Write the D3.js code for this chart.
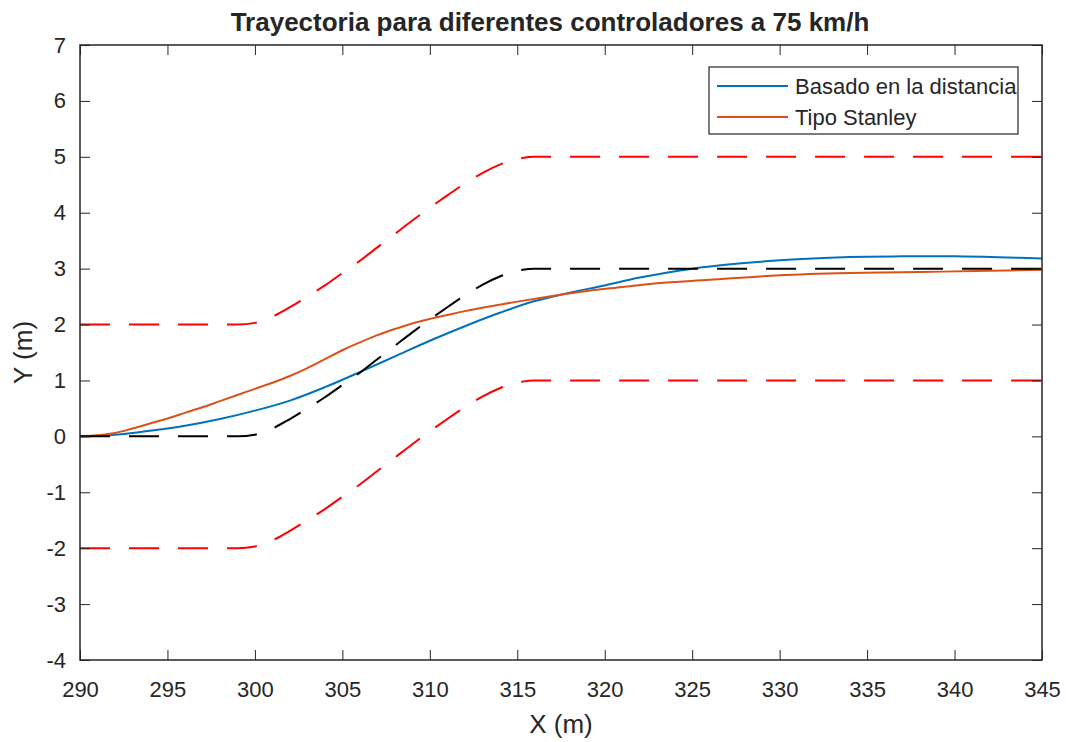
<!DOCTYPE html>
<html>
<head>
<meta charset="utf-8">
<script src="https://cdn.jsdelivr.net/npm/d3@7"></script>
<style>
  body { margin: 0; background: #fff; }
  text { font-family: "Liberation Sans", Arial, sans-serif; fill: #262626; }
</style>
</head>
<body>
<div id="chart"></div>
<script>
// reference path (centre line) and lane borders
const xRef = [290, 299, 300, 301, 302, 303, 304, 305, 306, 307, 308, 309, 310, 311, 312, 313, 314, 315, 316, 345];
const yRef = [0, 0, 0.03, 0.14, 0.31, 0.5, 0.7, 0.92, 1.14, 1.38, 1.62, 1.86, 2.09, 2.31, 2.52, 2.71, 2.86, 2.96, 3.0, 3.0];
const yUpper = [2, 2, 2.03, 2.14, 2.31, 2.5, 2.7, 2.92, 3.14, 3.38, 3.62, 3.86, 4.09, 4.31, 4.52, 4.71, 4.86, 4.96, 5.0, 5.0];
const yLower = [-2, -2, -1.97, -1.86, -1.69, -1.5, -1.3, -1.08, -0.86, -0.62, -0.38, -0.14, 0.09, 0.31, 0.52, 0.71, 0.86, 0.96, 1.0, 1.0];

// controller: distance based
const xDist = [290, 291, 292, 293, 294, 295, 296, 298, 300, 302, 304, 306, 308, 310, 312, 314, 316, 318, 320, 322, 325, 328, 331, 334, 337, 340, 343, 345];
const yDist = [0, 0.01, 0.03, 0.06, 0.1, 0.14, 0.19, 0.31, 0.46, 0.64, 0.88, 1.15, 1.43, 1.71, 1.97, 2.21, 2.42, 2.57, 2.7, 2.84, 3.0, 3.1, 3.17, 3.21, 3.22, 3.22, 3.2, 3.18];

// controller: Stanley type
const xStan = [290, 291, 292, 293, 294, 295, 296, 297, 298, 299, 300, 301, 302, 303, 304, 305, 306, 307, 308, 309, 310, 311, 312, 313, 315, 317, 319, 321, 323, 326, 330, 334, 338, 342, 345];
const yStan = [0, 0.02, 0.06, 0.14, 0.23, 0.32, 0.42, 0.52, 0.63, 0.74, 0.85, 0.96, 1.08, 1.22, 1.38, 1.54, 1.68, 1.81, 1.92, 2.02, 2.1, 2.17, 2.24, 2.3, 2.41, 2.51, 2.6, 2.67, 2.74, 2.8, 2.88, 2.92, 2.94, 2.96, 2.98];

const xTicks = d3.range(290, 346, 5);
const yTicks = d3.range(-4, 8, 1);

const seriesNames = ["Basado en la distancia", "Tipo Stanley"];
const seriesColors = ["#0072BD", "#D95319"];

const width = 1066, height = 742;
const margin = { top: 45, right: 24, bottom: 82, left: 80 };

const svg = d3.select("#chart").append("svg").attr("width", width).attr("height", height);

const x = d3.scaleLinear().domain([290, 345]).range([margin.left, width - margin.right]);
const y = d3.scaleLinear().domain([-4, 7]).range([height - margin.bottom, margin.top]);

const zip = (xs, ys) => xs.map((v, i) => [v, ys[i]]);
const refLine = d3.line().x(d => x(d[0])).y(d => y(d[1])).curve(d3.curveMonotoneX);
const ctrlLine = d3.line().x(d => x(d[0])).y(d => y(d[1])).curve(d3.curveCatmullRom.alpha(0.5));

const plot = svg.append("g");
plot.append("path").attr("d", ctrlLine(zip(xDist, yDist))).attr("fill", "none")
    .attr("stroke", seriesColors[0]).attr("stroke-width", 2);
plot.append("path").attr("d", ctrlLine(zip(xStan, yStan))).attr("fill", "none")
    .attr("stroke", seriesColors[1]).attr("stroke-width", 2);
[[yUpper, "#FF0000"], [yLower, "#FF0000"], [yRef, "#000000"]].forEach(([ys, c]) => {
    plot.append("path").attr("d", refLine(zip(xRef, ys))).attr("fill", "none")
        .attr("stroke", c).attr("stroke-width", 2).attr("stroke-dasharray", "30,19");
});

// axes, ticks inward on all four sides
const x0 = margin.left, x1 = width - margin.right, y0 = height - margin.bottom, y1 = margin.top;
const axisColor = "#262626";
const fmt = d => String(d);
const bottomAxis = svg.append("g").attr("transform", `translate(0,${y0})`)
    .call(d3.axisBottom(x).tickValues(xTicks).tickSize(-10).tickPadding(21).tickFormat(fmt));
const leftAxis = svg.append("g").attr("transform", `translate(${x0},0)`)
    .call(d3.axisLeft(y).tickValues(yTicks).tickSize(-10).tickPadding(14).tickFormat(fmt));
const topAxis = svg.append("g").attr("transform", `translate(0,${y1})`)
    .call(d3.axisTop(x).tickValues(xTicks).tickSize(-10).tickFormat(""));
const rightAxis = svg.append("g").attr("transform", `translate(${x1},0)`)
    .call(d3.axisRight(y).tickValues(yTicks).tickSize(-10).tickFormat(""));
[bottomAxis, leftAxis, topAxis, rightAxis].forEach(g => {
    g.select(".domain").remove();
    g.selectAll("line").attr("stroke", axisColor).attr("stroke-width", 1);
    g.selectAll("text").attr("font-size", 22).attr("fill", axisColor)
        .style("font-family", "'Liberation Sans', Arial, sans-serif");
});
svg.append("rect").attr("x", x0).attr("y", y1).attr("width", x1 - x0).attr("height", y0 - y1)
    .attr("fill", "none").attr("stroke", axisColor).attr("stroke-width", 1.5);

// labels
svg.append("text").attr("x", 550).attr("y", 31).attr("text-anchor", "middle")
    .attr("font-size", 26).attr("font-weight", "bold").attr("fill", "#000")
    .text("Trayectoria para diferentes controladores a 75 km/h");
svg.append("text").attr("x", (x0 + x1) / 2).attr("y", 733).attr("text-anchor", "middle")
    .attr("font-size", 26).text("X (m)");
svg.append("text").attr("transform", `translate(32,${(y0 + y1) / 2}) rotate(-90)`)
    .attr("text-anchor", "middle").attr("font-size", 26).text("Y (m)");

// legend
const lg = svg.append("g").attr("transform", "translate(709,67)");
lg.append("rect").attr("width", 309).attr("height", 67).attr("fill", "#fff")
    .attr("stroke", axisColor).attr("stroke-width", 1.2);
seriesNames.forEach((n, i) => {
    const ly = 19 + i * 31;
    lg.append("line").attr("x1", 8).attr("x2", 79).attr("y1", ly).attr("y2", ly)
        .attr("stroke", seriesColors[i]).attr("stroke-width", 2);
    lg.append("text").attr("x", 86).attr("y", ly + 8).attr("font-size", 22).attr("fill", "#000").text(n);
});
</script>
</body>
</html>
